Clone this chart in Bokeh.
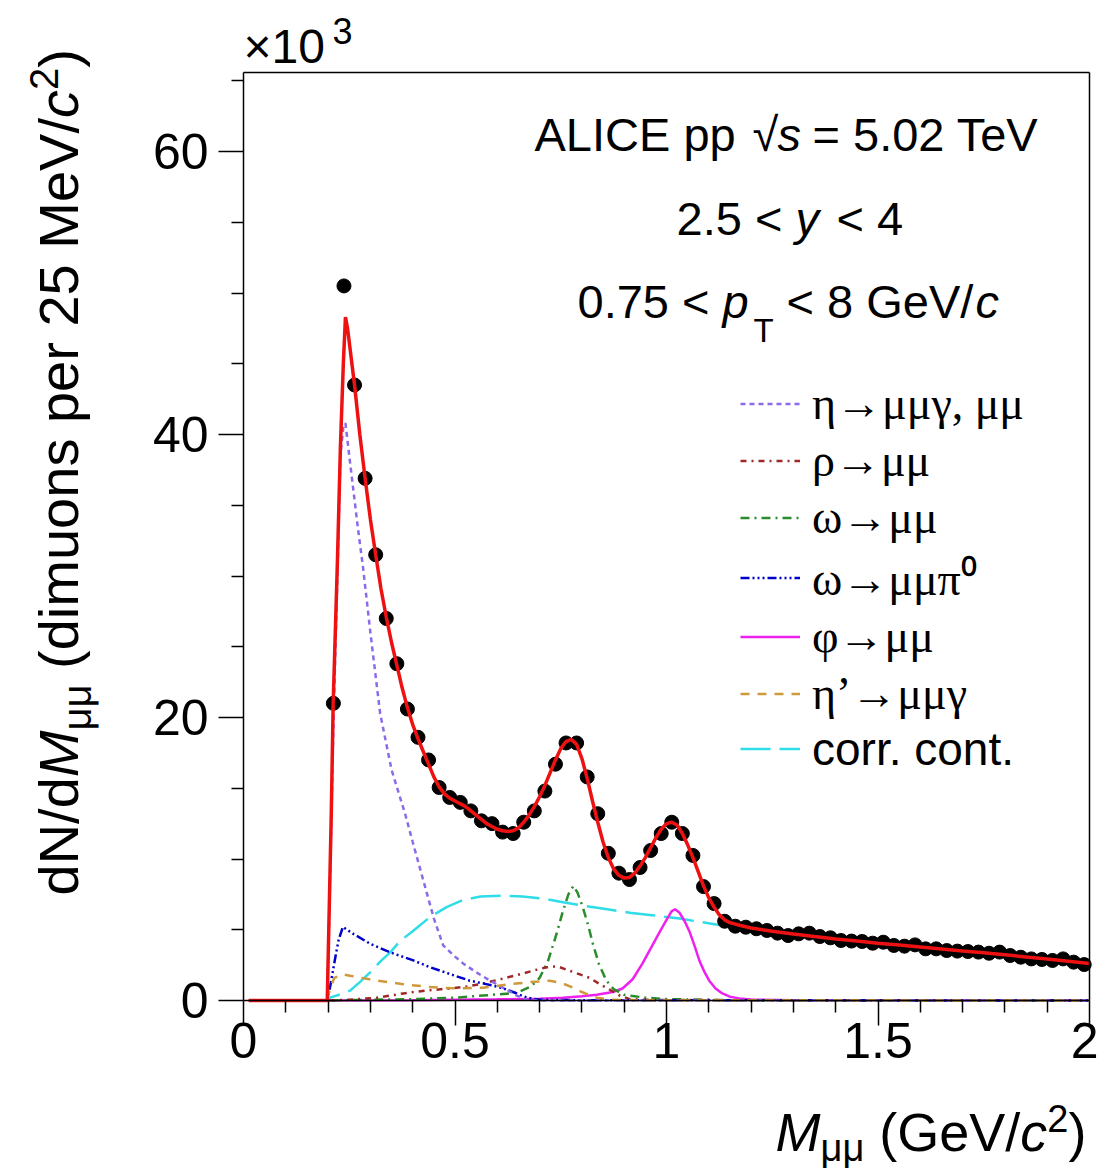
from math import pi
from bokeh.plotting import figure
from bokeh.models import Range1d, FixedTicker, Label, Legend, LegendItem, LinearAxis
from bokeh.embed import file_html
from bokeh.resources import INLINE

# ---------------- data (dimuons per 25 MeV/c^2, in units of 10^3) ----------------
mass_bins = [0.2125, 0.2375, 0.2625, 0.2875, 0.3125, 0.3375, 0.3625, 0.3875, 0.4125, 0.4375,
             0.4625, 0.4875, 0.5125, 0.5375, 0.5625, 0.5875, 0.6125, 0.6375, 0.6625, 0.6875,
             0.7125, 0.7375, 0.7625, 0.7875, 0.8125, 0.8375, 0.8625, 0.8875, 0.9125, 0.9375,
             0.9625, 0.9875, 1.0125, 1.0375, 1.0625, 1.0875, 1.1125, 1.1375, 1.1625, 1.1875,
             1.2125, 1.2375, 1.2625, 1.2875, 1.3125, 1.3375, 1.3625, 1.3875, 1.4125, 1.4375,
             1.4625, 1.4875, 1.5125, 1.5375, 1.5625, 1.5875, 1.6125, 1.6375, 1.6625, 1.6875,
             1.7125, 1.7375, 1.7625, 1.7875, 1.8125, 1.8375, 1.8625, 1.8875, 1.9125, 1.9375,
             1.9625, 1.9875]
dimuon_counts = [21.0, 50.5, 43.5, 36.9, 31.5, 27.0, 23.8, 20.6, 18.6, 17.0,
                 15.05, 14.35, 14.0, 13.4, 12.7, 12.5, 11.9, 11.8, 12.6, 13.4,
                 14.8, 16.7, 18.2, 18.2, 15.8, 13.2, 10.4, 9.0, 8.55, 9.4,
                 10.6, 11.8, 12.6, 11.8, 10.25, 8.05, 6.85, 5.6, 5.25, 5.18,
                 5.07, 4.95, 4.76, 4.59, 4.71, 4.76, 4.52, 4.43, 4.24, 4.20,
                 4.17, 4.05, 4.12, 3.89, 3.84, 3.93, 3.65, 3.65, 3.53, 3.49,
                 3.46, 3.42, 3.34, 3.42, 3.18, 3.06, 2.94, 2.90, 2.83, 2.94,
                 2.71, 2.54]

# total fit (red)
fit_x = [0.012, 0.163, 0.198, 0.2075, 0.212, 0.222, 0.229, 0.236, 0.241, 0.246, 0.2625, 0.275,
         0.2875, 0.3, 0.3125, 0.325, 0.3375, 0.35, 0.3625, 0.375, 0.3875, 0.4, 0.4125, 0.425,
         0.4375, 0.45, 0.4625, 0.475, 0.4875, 0.5, 0.5125, 0.525, 0.5375, 0.55, 0.5625, 0.575,
         0.5875, 0.6, 0.6125, 0.625, 0.6375, 0.65, 0.6625, 0.675, 0.6875, 0.7, 0.7125, 0.725,
         0.7375, 0.75, 0.7625, 0.775, 0.7875, 0.8, 0.8125, 0.825, 0.8375, 0.85, 0.8625, 0.875,
         0.8875, 0.9, 0.9125, 0.925, 0.9375, 0.95, 0.9625, 0.975, 0.9875, 1.0, 1.0125, 1.025,
         1.0375, 1.05, 1.0625, 1.075, 1.0875, 1.1, 1.1125, 1.125, 1.1375, 1.15, 1.175, 1.2,
         1.25, 1.3, 1.35, 1.4, 1.45, 1.5, 1.55, 1.6, 1.65, 1.7, 1.75, 1.8, 1.85, 1.9, 1.95, 2.0]
fit_y = [0.0, 0.0, 0.0, 13.2, 21.0, 31.0, 39.0, 45.0, 48.3, 47.5, 43.5, 40.0,
         36.9, 34.0, 31.5, 29.1, 27.1, 25.3, 23.7, 22.1, 20.7, 19.5, 18.5, 17.6,
         16.7, 15.8, 15.1, 14.6, 14.3, 14.1, 13.9, 13.7, 13.4, 13.1, 12.8, 12.5,
         12.3, 12.1, 12.0, 11.95, 12.0, 12.2, 12.6, 13.1, 13.7, 14.4, 15.2, 16.1,
         17.0, 17.8, 18.3, 18.45, 18.1, 17.1, 15.7, 14.1, 12.6, 11.2, 10.1, 9.3,
         8.85, 8.65, 8.7, 9.0, 9.5, 10.1, 10.8, 11.5, 12.1, 12.5, 12.6, 12.4,
         11.8, 11.0, 10.1, 9.1, 8.1, 7.25, 6.6, 6.05, 5.7, 5.5, 5.3, 5.12,
         4.9, 4.7, 4.52, 4.35, 4.2, 4.05, 3.92, 3.78, 3.64, 3.5, 3.37, 3.23, 3.08, 2.93, 2.78, 2.62]

# eta -> mu mu gamma, mu mu
eta_x = [0.16, 0.198, 0.208, 0.213, 0.222, 0.229, 0.236, 0.241, 0.25, 0.26, 0.27, 0.283, 0.3,
         0.323, 0.35, 0.382, 0.4, 0.425, 0.45, 0.472, 0.5, 0.52, 0.55, 0.583, 0.62, 0.646, 0.67,
         0.7, 2.0]
eta_y = [0.0, 0.0, 13.0, 20.0, 30.0, 38.5, 40.5, 40.8, 38.5, 36.0, 33.5, 30.5, 26.0,
         20.3, 16.3, 13.2, 11.2, 8.5, 5.8, 3.9, 3.1, 2.6, 2.0, 1.4, 0.8, 0.35, 0.05,
         0.0, 0.0]

# rho -> mu mu
rho_x = [0.16, 0.198, 0.25, 0.316, 0.378, 0.43, 0.488, 0.53, 0.566, 0.62, 0.66, 0.69, 0.717,
         0.735, 0.748, 0.771, 0.795, 0.818, 0.84, 0.858, 0.875, 0.889, 0.913, 0.95, 1.0, 2.0]
rho_y = [0.0, 0.0, 0.05, 0.2, 0.5, 0.7, 0.85, 1.0, 1.2, 1.6, 1.9, 2.15, 2.35,
         2.4, 2.35, 2.1, 1.85, 1.6, 1.2, 0.9, 0.6, 0.35, 0.1, 0.05, 0.03, 0.0]

# omega -> mu mu
omega_x = [0.16, 0.198, 0.3, 0.41, 0.5, 0.566, 0.63, 0.65, 0.68, 0.7, 0.72, 0.74, 0.755, 0.768,
           0.78, 0.79, 0.802, 0.815, 0.826, 0.84, 0.858, 0.875, 0.9, 0.95, 1.0, 1.1, 1.2, 2.0]
omega_y = [0.0, 0.0, 0.05, 0.1, 0.2, 0.35, 0.5, 0.6, 1.0, 1.6, 2.8, 4.7, 6.3, 7.5,
           8.1, 7.6, 6.6, 5.3, 4.0, 2.6, 1.4, 0.8, 0.4, 0.2, 0.1, 0.05, 0.0, 0.0]

# omega -> mu mu pi0
omegad_x = [0.16, 0.198, 0.205, 0.212, 0.218, 0.225, 0.235, 0.245, 0.26, 0.3, 0.347, 0.4, 0.441,
            0.5, 0.535, 0.583, 0.61, 0.637, 0.67, 0.7, 0.8, 2.0]
omegad_y = [0.0, 0.0, 1.0, 2.2, 3.2, 4.3, 5.2, 5.0, 4.7, 4.0, 3.4, 2.85, 2.35,
            1.75, 1.4, 1.1, 0.9, 0.6, 0.2, 0.05, 0.02, 0.0]

# phi -> mu mu
phi_x = [0.16, 0.198, 0.4, 0.6, 0.7, 0.755, 0.8, 0.835, 0.873, 0.896, 0.92, 0.943, 0.963, 0.983,
         1.0, 1.012, 1.02, 1.031, 1.043, 1.054, 1.066, 1.078, 1.09, 1.101, 1.116, 1.132, 1.15,
         1.172, 1.2, 1.3, 2.0]
phi_y = [0.0, 0.0, 0.02, 0.08, 0.12, 0.2, 0.3, 0.4, 0.6, 0.85, 1.5, 2.6, 3.7, 4.8,
         5.7, 6.3, 6.45, 6.2, 5.6, 4.9, 3.9, 2.8, 2.0, 1.4, 0.85, 0.5, 0.27,
         0.15, 0.07, 0.02, 0.0]

# eta' -> mu mu gamma
etap_x = [0.16, 0.198, 0.205, 0.215, 0.235, 0.252, 0.28, 0.316, 0.378, 0.441, 0.505, 0.566, 0.63,
          0.677, 0.724, 0.755, 0.78, 0.8, 0.82, 0.835, 0.87, 0.95, 2.0]
etap_y = [0.0, 0.0, 0.9, 1.6, 1.85, 1.75, 1.6, 1.4, 1.15, 0.95, 0.85, 0.9, 1.15,
          1.3, 1.4, 1.2, 0.9, 0.6, 0.35, 0.2, 0.05, 0.02, 0.0]

# correlated continuum
cont_x = [0.16, 0.195, 0.205, 0.23, 0.252, 0.275, 0.3, 0.325, 0.347, 0.37, 0.4, 0.441, 0.48,
          0.519, 0.56, 0.613, 0.66, 0.708, 0.755, 0.802, 0.86, 0.913, 0.96, 1.0, 1.031, 1.07,
          1.12, 1.15, 1.2, 1.3, 1.4, 1.5, 1.6, 1.7, 1.8, 1.9, 2.0]
cont_y = [0.0, 0.0, 0.2, 0.45, 0.7, 1.3, 2.0, 2.8, 3.4, 4.2, 4.9, 5.9, 6.6,
          7.1, 7.35, 7.4, 7.35, 7.2, 6.95, 6.7, 6.45, 6.2, 6.05, 5.9, 5.8, 5.6,
          5.35, 5.22, 5.05, 4.68, 4.33, 4.03, 3.76, 3.48, 3.21, 2.91, 2.6]

x_major = [0, 0.5, 1, 1.5, 2]
x_minor = [0.1, 0.2, 0.3, 0.4, 0.6, 0.7, 0.8, 0.9, 1.1, 1.2, 1.3, 1.4, 1.6, 1.7, 1.8, 1.9]
x_tick_labels = {0: "0", 0.5: "0.5", 1: "1", 1.5: "1.5", 2: "2"}
y_major = [0, 20, 40, 60]
y_minor = [5, 10, 15, 25, 30, 35, 45, 50, 55, 65]
x_limits = (0, 2)
y_limits = (0, 65.6)

legend_labels = ["η→μμγ, μμ", "ρ→μμ", "ω→μμ", "ω→μμπ⁰", "φ→μμ", "η’→μμγ", "corr. cont."]

# ---------------- layout / styling ----------------
SANS = "Liberation Sans"
SERIF = "Liberation Serif"
W, H = 1098, 1168
OX, OY = 243.0, 1000.0      # canvas px of the plot origin (0, 0)
KX, KY = 423.0, 14.15       # canvas px per x unit / per y unit
AW = {'d': 556, 'N': 722, '/': 278, 'M': 833, 'μ': 576, ' ': 278, '(': 333, ')': 333,
      'i': 222, 'm': 833, 'u': 556, 'o': 556, 'n': 556, 's': 500, 'p': 556, 'e': 556,
      'r': 333, '2': 556, '5': 556, 'V': 667, 'c': 500, 'G': 778}


def tw(s, size):
    return sum(AW.get(ch, 556) for ch in s) * size / 1000.0


def X(px):
    return (px - OX) / KX


def Y(py):
    return (OY - py) / KY


p = figure(width=W, height=H, x_range=Range1d(X(0), X(W)), y_range=Range1d(Y(H), Y(0)),
           x_axis_location=None, y_axis_location=None, min_border=0,
           output_backend="svg", toolbar_location=None)
p.xgrid.visible = False
p.ygrid.visible = False
p.outline_line_color = None
p.background_fill_color = "white"
p.border_fill_color = "white"


def style_axis(ax, tick_out=25, minor_out=12):
    ax.axis_line_color = "black"
    ax.axis_line_width = 1.5
    ax.major_tick_line_color = "black"
    ax.major_tick_line_width = 1.5
    ax.minor_tick_line_color = "black"
    ax.minor_tick_line_width = 1.5
    ax.major_tick_in = 0
    ax.minor_tick_in = 0
    ax.major_tick_out = tick_out
    ax.minor_tick_out = minor_out
    ax.major_label_text_font = SANS
    ax.major_label_text_font_size = "50px"
    ax.major_label_text_color = "black"


xax = LinearAxis(fixed_location=y_limits[0], bounds=x_limits,
                 ticker=FixedTicker(ticks=x_major, minor_ticks=x_minor),
                 major_label_overrides=x_tick_labels, major_label_standoff=-3)
style_axis(xax)
p.add_layout(xax, "below")

yax = LinearAxis(fixed_location=x_limits[0], bounds=y_limits,
                 ticker=FixedTicker(ticks=y_major, minor_ticks=y_minor), major_label_standoff=10)
style_axis(yax)
p.add_layout(yax, "left")

# frame top and right edges (tick-less axes)
tax = LinearAxis(fixed_location=y_limits[1], bounds=x_limits,
                 ticker=FixedTicker(ticks=[], minor_ticks=[]), major_label_text_alpha=0)
style_axis(tax, 0, 0)
p.add_layout(tax, "above")
rax = LinearAxis(fixed_location=x_limits[1], bounds=y_limits,
                 ticker=FixedTicker(ticks=[], minor_ticks=[]), major_label_text_alpha=0)
style_axis(rax, 0, 0)
p.add_layout(rax, "right")

# component curves
r_cont = p.line(cont_x, cont_y, line_color="#2fdde8", line_width=2.5, line_dash="30 9")
r_phi = p.line(phi_x, phi_y, line_color="#ee22ee", line_width=2.5)
r_omega = p.line(omega_x, omega_y, line_color="#2a8c2a", line_width=2.5, line_dash="9 5 2 5")
r_rho = p.line(rho_x, rho_y, line_color="#a02828", line_width=2.5, line_dash="6 5 2 5")
r_omegad = p.line(omegad_x, omegad_y, line_color="#0000cc", line_width=2.5,
                  line_dash="9 3 2 3 2 3 2 3")
r_eta = p.line(eta_x, eta_y, line_color="#8c6bea", line_width=2.5, line_dash="5 4")
r_etap = p.line(etap_x, etap_y, line_color="#cf9a3c", line_width=2.5, line_dash="9 8")

# data and total fit
p.scatter(mass_bins, dimuon_counts, size=14, color="black")
p.line(fit_x, fit_y, line_color="#ee1111", line_width=3.5)

# legends (location: px from the canvas bottom-left)
comp_renderers = [r_eta, r_rho, r_omega, r_omegad, r_phi, r_etap]
common = dict(orientation="vertical", label_text_font_size="46px", glyph_width=60,
              glyph_height=57, label_height=57, spacing=0, padding=0, margin=0,
              label_standoff=12, label_text_color="black",
              border_line_alpha=0, background_fill_alpha=0)
legA = Legend(items=[LegendItem(label=l, renderers=[r]) for l, r in zip(legend_labels[:6], comp_renderers)],
              location=(740, 446), label_text_font=SERIF, **common)
legB = Legend(items=[LegendItem(label=legend_labels[6], renderers=[r_cont])],
              location=(740, 391), label_text_font=SANS, **common)
p.add_layout(legA)
p.add_layout(legB)

BASE_SHIFT = 0.4   # Label baseline correction (fraction of font size)


def add_text(text, px, py, size, style="normal", font=SANS, rotated=False):
    # px, py: canvas pixel position of the text's left end on its baseline
    if rotated:
        px = px - BASE_SHIFT * size
    else:
        py = py - BASE_SHIFT * size
    p.add_layout(Label(x=X(px), y=Y(py), text=text,
                       text_font=font, text_font_size=f"{size}px", text_font_style=style,
                       text_color="black", text_align="left", text_baseline="alphabetic",
                       angle=pi / 2 if rotated else 0.0))


# x10^3
add_text("×10", 243, 65, 48)
add_text("3", 332, 45, 36)

# info text
add_text("ALICE pp", 534, 153, 47)
add_text("√", 752, 153, 47)
add_text("s", 777, 153, 47, "italic")
add_text("= 5.02 TeV", 812, 153, 47)

add_text("2.5 <", 676, 237, 47)
add_text("y", 795, 237, 47, "italic")
add_text("< 4", 836, 237, 47)

add_text("0.75 <", 577, 320, 47)
add_text("p", 722, 320, 47, "italic")
add_text("T", 753, 343, 33)
add_text("< 8 GeV/", 786, 320, 47)
add_text("c", 975, 320, 47, "italic")

# x axis title (pieces left to right)
TS, SS = 54, 38
cx, base = 775.0, 1153.0
pieces_x = [("M", TS, "italic", 0, 0), ("μμ", SS, "normal", 10, 0),
            ("(GeV/", TS, "normal", 0, tw(" ", TS)), ("c", TS, "italic", 0, 0),
            ("2", SS, "normal", -20, 0), (")", TS, "normal", 0, 0)]
for txt, sz, st, off, gap in pieces_x:
    cx += gap
    add_text(txt, cx, base + off, sz, st)
    cx += tw(txt, sz)

# y axis title (rotated, pieces bottom to top)
YS, YSS = 56, 40
cy, xbase = 895.0, 80.0
pieces_y = [("dN/d", YS, "normal", 0, 0), ("M", YS, "italic", 0, 0), ("μμ", YSS, "normal", 12, 0),
            ("(dimuons per 25 MeV/", YS, "normal", 0, tw(" ", YS)), ("c", YS, "italic", 0, 0),
            ("2", YSS, "normal", -21, 0), (")", YS, "normal", 0, 0)]
for txt, sz, st, off, gap in pieces_y:
    cy -= gap
    add_text(txt, xbase + off, cy, sz, st, rotated=True)
    cy -= tw(txt, sz)

open("out.html", "w").write(file_html(p, INLINE))
